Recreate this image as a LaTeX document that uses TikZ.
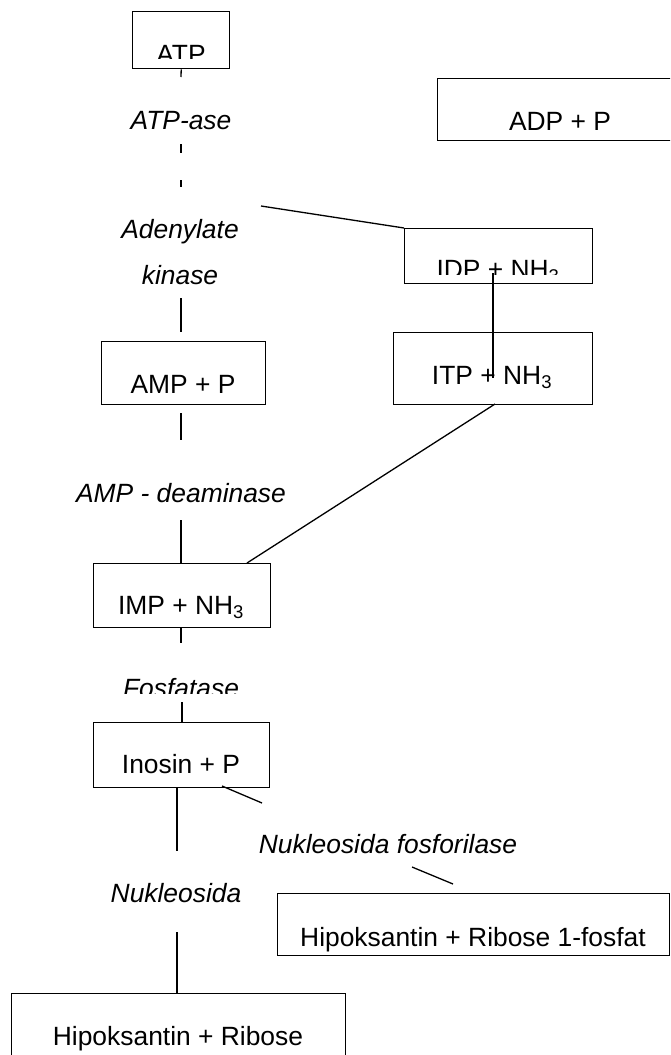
\documentclass[tikz,border=0pt]{standalone}
\usepackage{fontspec}
\setmainfont{Liberation Sans}
\begin{document}
\begin{tikzpicture}[x=1pt,y=-1pt,line width=1.3pt,
  box/.style={draw,line width=1.4pt,inner sep=0pt,anchor=north west},
  lbl/.style={font=\fontsize{26.4}{30}\selectfont,inner sep=0pt,anchor=base},
  enz/.style={font=\fontsize{26.4}{30}\selectfont\itshape,inner sep=0pt,anchor=base}]
\clip (0,0) rectangle (670,1055);
\fill[white] (0,0) rectangle (670,1055);
% boxes
\node[box,minimum width=97pt,minimum height=57pt] (atp) at (132,11) {};
\node[box,minimum width=246pt,minimum height=62pt] (adp) at (437,78) {};
\node[box,minimum width=188pt,minimum height=55pt] (idp) at (404,228) {};
\node[box,minimum width=199pt,minimum height=72pt] (itp) at (393,332) {};
\node[box,minimum width=164pt,minimum height=63pt] (amp) at (101,341) {};
\node[box,minimum width=177pt,minimum height=64pt] (imp) at (93,563) {};
\node[box,minimum width=176pt,minimum height=65pt] (ino) at (93,722) {};
\node[box,minimum width=392pt,minimum height=62pt] (hrf) at (277,893) {};
\node[box,minimum width=334pt,minimum height=100pt] (hr) at (11,993) {};
% box texts
\begin{scope}
\clip (130,11) rectangle (232,58);
\node[lbl] (tatp) at (181,63) {ATP};
\end{scope}
\node[lbl] (tadp) at (560,130) {ADP + P};
\begin{scope}
\clip (404,228) rectangle (592,274);
\node[lbl] (tidp) at (498,278) {IDP + NH\textsubscript{3}};
\end{scope}
\node[lbl] (titp) at (492,384) {ITP + NH\textsubscript{3}};
\node[lbl] (tamp) at (183,393) {AMP + P};
\node[lbl] (timp) at (181,614) {IMP + NH\textsubscript{3}};
\node[lbl] (tino) at (181,773) {Inosin + P};
\node[lbl] (thrf) at (473,946) {Hipoksantin + Ribose 1-fosfat};
\node[lbl] (thr) at (178,1045) {Hipoksantin + Ribose};
% enzyme labels
\node[enz] (atpase) at (181,129) {ATP-ase};
\node[enz] (adk1) at (180,238) {Adenylate};
\node[enz] (adk2) at (180,284) {kinase};
\node[enz] (ampd) at (181,502) {AMP - deaminase};
\begin{scope}
\clip (100,660) rectangle (270,693);
\node[enz] (fos) at (181,697) {Fosfatase};
\end{scope}
\node[enz] (nfos) at (388,853) {Nukleosida fosforilase};
\node[enz] (nuk) at (176,902) {Nukleosida};
% coordinates
\coordinate (c1) at (181,77);
\coordinate (c2) at (181,144);
\coordinate (c3) at (181,153);
\coordinate (c4) at (181,180);
\coordinate (c5) at (181,187);
\coordinate (ak) at (261,206);
\coordinate (c6) at (181,298);
\coordinate (c7) at (181,332);
\coordinate (c8) at (181,413);
\coordinate (c9) at (181,440);
\coordinate (c10) at (181,520);
\coordinate (c11) at (181,563);
\coordinate (p1) at (493,273);
\coordinate (p2) at (493,378);
\coordinate (q1) at (495,404);
\coordinate (q2) at (247,563);
\coordinate (c12) at (181,628);
\coordinate (c13) at (181,643);
\coordinate (c14) at (182,702);
\coordinate (c15) at (182,722);
\coordinate (c16) at (177,787);
\coordinate (c17) at (177,851);
\coordinate (s1) at (222,786);
\coordinate (s2) at (262,803);
\coordinate (s3) at (412,867);
\coordinate (s4) at (453,884);
\coordinate (c18) at (177,932);
\coordinate (c19) at (177,993);
% connectors
\draw (atp.south) -- (c1);
\draw (c2) -- (c3);
\draw (c4) -- (c5);
\draw (ak) -- (idp.north west);
\draw (c6) -- (c7);
\draw (c8) -- (c9);
\draw (c10) -- (c11);
\draw (p1) -- (p2);
\draw (q1) -- (q2);
\draw (c12) -- (c13);
\draw (c14) -- (c15);
\draw (c16) -- (c17);
\draw (s1) -- (s2);
\draw (s3) -- (s4);
\draw (c18) -- (c19);
\end{tikzpicture}
\end{document}
